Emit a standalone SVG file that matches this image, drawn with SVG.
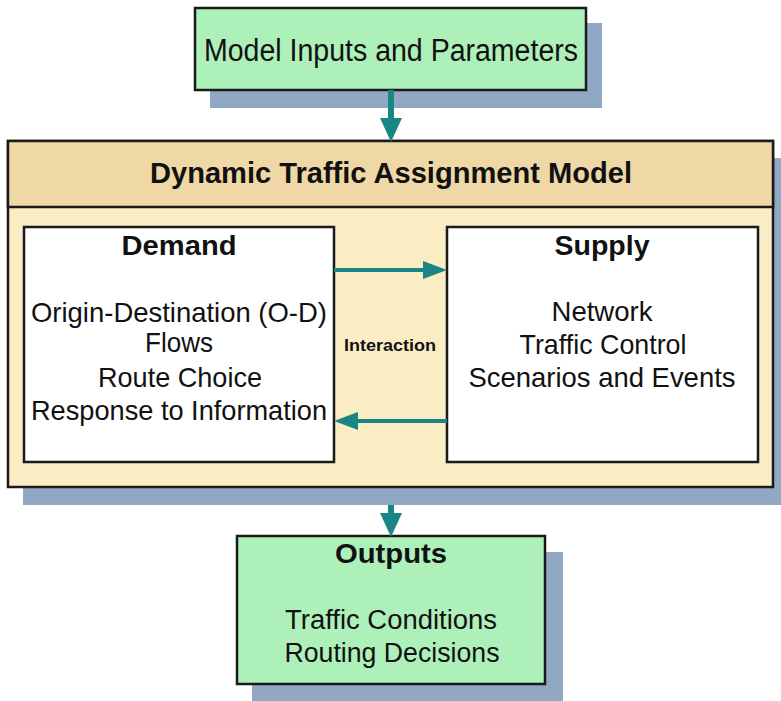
<svg xmlns="http://www.w3.org/2000/svg" width="781" height="701" viewBox="0 0 781 701">
<style>
.shadow{fill:#91A8C5}
.green{fill:#AEF0B9;stroke:#1a1a1a;stroke-width:2.5}
.white{fill:#ffffff;stroke:#1a1a1a;stroke-width:2.5}
.t{font-family:"Liberation Sans",Arial,sans-serif;fill:#111;text-anchor:middle}
.b{font-weight:bold}
.conn{stroke:#1B8585;fill:none}
</style>
<defs>
<marker id="ah" markerUnits="userSpaceOnUse" markerWidth="24" markerHeight="22" refX="0" refY="11" orient="auto" viewBox="0 0 24 22">
<path d="M0,0 L24,11 L0,22 z" fill="#1B8585"/>
</marker>
<marker id="ahs" markerUnits="userSpaceOnUse" markerWidth="24" markerHeight="18" refX="0" refY="9" orient="auto" viewBox="0 0 24 18">
<path d="M0,0 L24,9 L0,18 z" fill="#1B8585"/>
</marker>
</defs>
<rect width="781" height="701" fill="#ffffff"/>
<g id="shadows">
<rect class="shadow" x="210" y="23" width="392" height="85"/>
<rect class="shadow" x="23" y="158" width="765" height="347"/>
<rect class="shadow" x="252" y="552" width="311" height="155"/>
</g>
<g id="inputs">
<rect class="green" x="195" y="8" width="391" height="82"/>
<text class="t" x="391" y="61" font-size="31" textLength="374" lengthAdjust="spacingAndGlyphs">Model Inputs and Parameters</text>
</g>
<g id="dta">
<rect x="8" y="141" width="765" height="346" fill="#FAEDC3" stroke="#1a1a1a" stroke-width="2.5"/>
<rect x="8" y="141" width="765" height="66" fill="#EFD8A5" stroke="#1a1a1a" stroke-width="2.5"/>
<text class="t b" x="391" y="183" font-size="29" textLength="482" lengthAdjust="spacingAndGlyphs">Dynamic Traffic Assignment Model</text>
</g>
<g id="demand">
<rect class="white" x="24" y="227" width="310" height="235"/>
<text class="t b" x="179" y="255" font-size="27" textLength="115" lengthAdjust="spacingAndGlyphs">Demand</text>
<text class="t" x="179" y="322" font-size="28" textLength="296" lengthAdjust="spacingAndGlyphs">Origin-Destination (O-D)</text>
<text class="t" x="179" y="352" font-size="28" textLength="68" lengthAdjust="spacingAndGlyphs">Flows</text>
<text class="t" x="180" y="387" font-size="28" textLength="164" lengthAdjust="spacingAndGlyphs">Route Choice</text>
<text class="t" x="179" y="420" font-size="28" textLength="296" lengthAdjust="spacingAndGlyphs">Response to Information</text>
</g>
<g id="supply">
<rect class="white" x="447" y="227" width="311" height="235"/>
<text class="t b" x="602" y="255" font-size="27" textLength="95" lengthAdjust="spacingAndGlyphs">Supply</text>
<text class="t" x="602" y="321" font-size="28" textLength="101" lengthAdjust="spacingAndGlyphs">Network</text>
<text class="t" x="603" y="354" font-size="28" textLength="167" lengthAdjust="spacingAndGlyphs">Traffic Control</text>
<text class="t" x="602" y="387" font-size="28" textLength="267" lengthAdjust="spacingAndGlyphs">Scenarios and Events</text>
</g>
<g id="interaction">
<text class="t b" x="390" y="351" font-size="16" textLength="92" lengthAdjust="spacingAndGlyphs">Interaction</text>
</g>
<g id="outputs">
<rect class="green" x="237" y="536" width="308" height="148"/>
<text class="t b" x="391" y="563" font-size="27" textLength="112" lengthAdjust="spacingAndGlyphs">Outputs</text>
<text class="t" x="391" y="629" font-size="27" textLength="212" lengthAdjust="spacingAndGlyphs">Traffic Conditions</text>
<text class="t" x="392" y="662" font-size="27" textLength="215" lengthAdjust="spacingAndGlyphs">Routing Decisions</text>
</g>
<g id="connectors">
<line class="conn" x1="391" y1="90" x2="391" y2="118" stroke-width="6" marker-end="url(#ah)"/>
<line class="conn" x1="334" y1="270" x2="423" y2="270" stroke-width="4" marker-end="url(#ahs)"/>
<line class="conn" x1="447" y1="421" x2="358" y2="421" stroke-width="4" marker-end="url(#ahs)"/>
<line class="conn" x1="391" y1="505" x2="391" y2="513" stroke-width="6" marker-end="url(#ah)"/>
</g>
</svg>
